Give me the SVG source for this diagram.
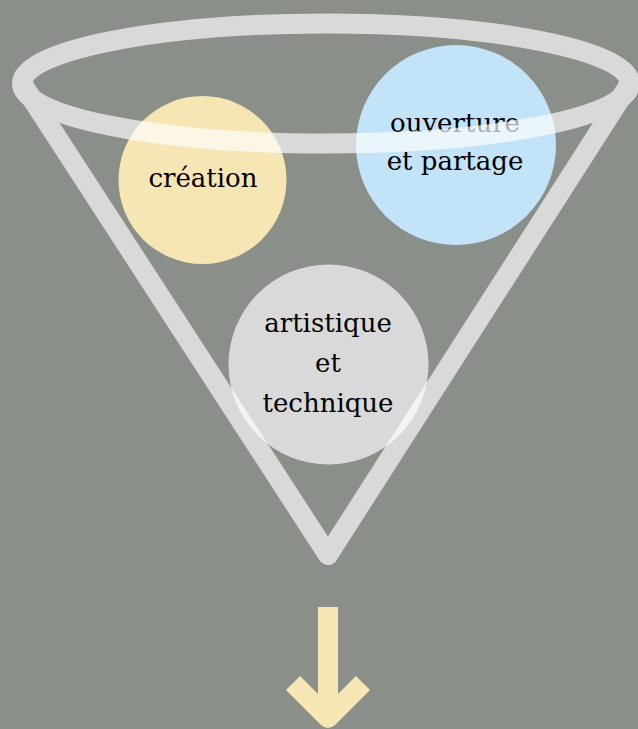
<svg xmlns="http://www.w3.org/2000/svg" width="638" height="729" viewBox="0 0 638 729">
<style>
.lbl{font-family:"DejaVu Serif","Liberation Serif",serif;font-size:26px;fill:#000;text-anchor:middle}
.fun{fill:none;stroke:#fff;stroke-width:20;stroke-linejoin:round}
.arr{fill:none;stroke:#f5e6b4;stroke-width:20;stroke-linejoin:round}
</style>
<rect width="638" height="729" fill="#8a8f89"/>
<g id="node-creation">
<circle cx="202.5" cy="180" r="84" fill="#f5e6b4"/>
<text class="lbl" x="203" y="187">création</text>
</g>
<g id="node-ouverture">
<circle cx="456" cy="145" r="100" fill="#c3e3f8"/>
<text class="lbl" x="455" y="132">ouverture</text>
<text class="lbl" x="455" y="170">et partage</text>
</g>
<g id="node-artistique">
<circle cx="328.5" cy="364.5" r="100" fill="#d9d9d9"/>
<text class="lbl" x="328" y="332">artistique</text>
<text class="lbl" x="328" y="372">et</text>
<text class="lbl" x="328" y="412">technique</text>
</g>
<g id="funnel" opacity="0.675">
<ellipse class="fun" cx="326" cy="83.5" rx="304" ry="60"/>
<path class="fun" d="M23,85 L328,555 L629,85"/>
</g>
<g id="connectors">
<path class="arr" d="M328,607 L328,716"/>
<path class="arr" d="M293,683 L328,718 L363,683"/>
</g>
</svg>
